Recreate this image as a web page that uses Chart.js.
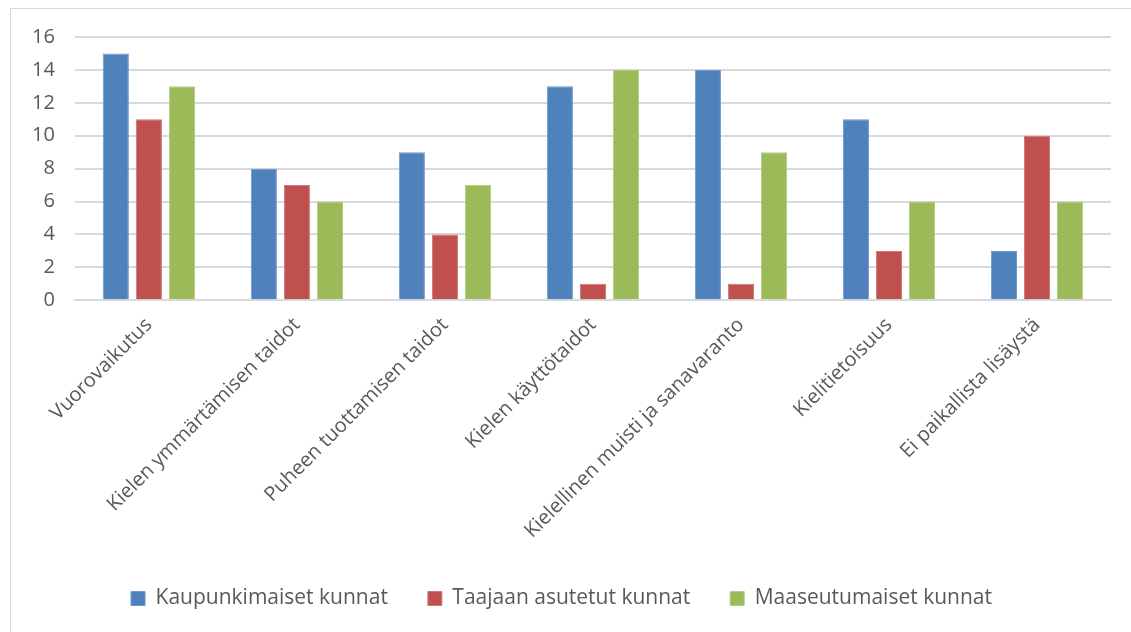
<!DOCTYPE html>
<html>
<head>
<meta charset="utf-8">
<script src="https://cdn.jsdelivr.net/npm/chart.js@4"></script>
<style>
  html, body { margin: 0; padding: 0; background: #fff; }
  #wrap { position: relative; width: 1131px; height: 632px; overflow: hidden; }
  #frame { position: absolute; left: 10px; top: 8px; width: 1140px; height: 640px; border: 1px solid #d9d9d9; box-sizing: border-box; }
  #c { position: absolute; left: 0; top: 0; }
</style>
</head>
<body>
<div id="wrap">
  <div id="frame"></div>
  <canvas id="c" width="1131" height="632"></canvas>
</div>
<script>
const kategoriat = ['Vuorovaikutus', 'Kielen ymmärtämisen taidot', 'Puheen tuottamisen taidot',
  'Kielen käyttötaidot', 'Kielellinen muisti ja sanavaranto', 'Kielitietoisuus', 'Ei paikallista lisäystä'];
const kaupunki = [15, 8, 9, 13, 14, 11, 3];
const taajama = [11, 7, 4, 1, 1, 3, 10];
const maaseutu = [13, 6, 7, 14, 9, 6, 6];

const fontti = '"Open Sans", "Liberation Sans", sans-serif';
const harmaa = '#595959';

const ctx = document.getElementById('c').getContext('2d');
new Chart(ctx, {
  type: 'bar',
  data: {
    labels: kategoriat,
    datasets: [
      { label: 'Kaupunkimaiset kunnat', data: kaupunki, backgroundColor: '#4F81BD', borderColor: '#6f97c9', borderWidth: 1 },
      { label: 'Taajaan asutetut kunnat', data: taajama, backgroundColor: '#C0504D', borderColor: '#d07774', borderWidth: 1 },
      { label: 'Maaseutumaiset kunnat', data: maaseutu, backgroundColor: '#9BBB59', borderColor: '#b3cc80', borderWidth: 1 }
    ]
  },
  options: {
    responsive: false,
    animation: false,
    layout: { padding: { left: 12, right: 20, top: 37, bottom: 13 } },
    datasets: { bar: { barPercentage: 0.79, categoryPercentage: 0.67 } },
    plugins: {
      legend: {
        position: 'bottom',
        labels: {
          color: harmaa,
          font: { family: fontti, size: 21 },
          boxWidth: 14,
          boxHeight: 14,
          padding: 40
        }
      },
      tooltip: { enabled: false }
    },
    scales: {
      x: {
        grid: { display: false },
        border: { color: '#d9d9d9', width: 2 },
        ticks: { color: harmaa, font: { family: fontti, size: 20 }, minRotation: 45, maxRotation: 45, padding: 5 }
      },
      y: {
        min: 0, max: 16,
        grid: { color: '#d9d9d9', lineWidth: 2, drawTicks: false },
        border: { display: false },
        ticks: { stepSize: 2, color: harmaa, font: { family: fontti, size: 20 }, padding: 20 }
      }
    }
  }
});
</script>
</body>
</html>
